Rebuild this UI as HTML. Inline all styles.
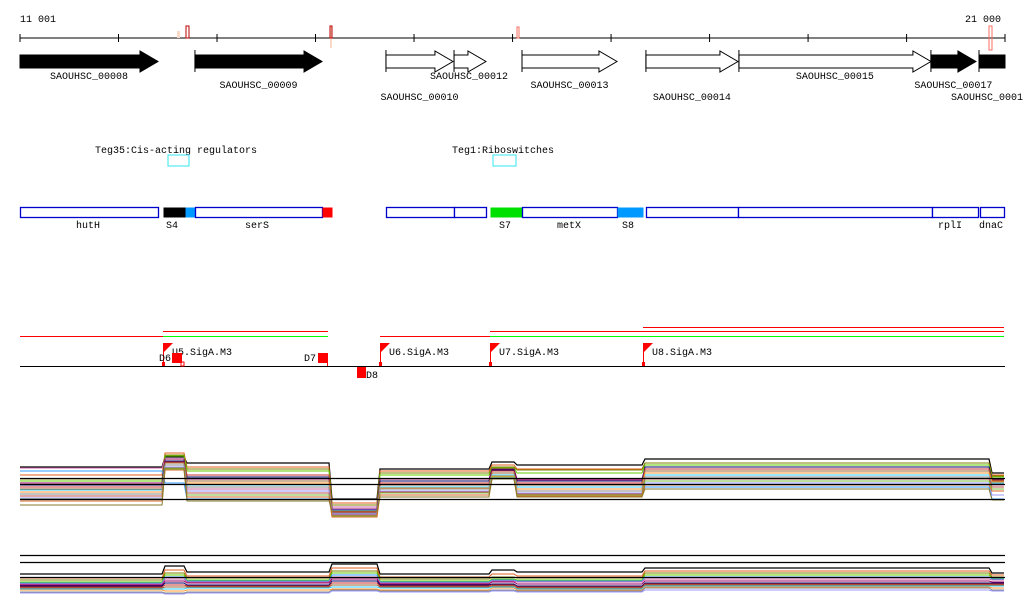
<!DOCTYPE html>
<html><head><meta charset="utf-8"><style>
html,body{margin:0;padding:0;background:#fff;}
svg{display:block;font-family:"Liberation Mono","DejaVu Sans Mono",monospace;}
text{font-size:10px;fill:#000;}
</style></head><body>
<svg id="c" width="1024" height="611" viewBox="0 0 1024 611">
<g>
<text x="20" y="22">11 001</text>
<text x="965" y="22">21 000</text>
<line x1="20" y1="38" x2="1005" y2="38" stroke="#000" stroke-width="1"/>
<g id="ticks"></g>
<rect x="177" y="31" width="3" height="7" fill="#fbd9c8"/>
<rect x="186" y="26" width="3" height="12" fill="none" stroke="#b00" stroke-width="1"/>
<rect x="330" y="26" width="2" height="22" fill="#fbd9c8"/>
<rect x="330" y="26" width="2" height="12" fill="none" stroke="#b00" stroke-width="1"/>
<rect x="517" y="27" width="2" height="11" fill="none" stroke="#f87060" stroke-width="1"/>
<rect x="989" y="26" width="3" height="24" fill="none" stroke="#f87060" stroke-width="1"/>
</g>
<g id="genes"></g>
<g>
<text x="95" y="153">Teg35:Cis-acting regulators</text>
<rect x="168" y="155" width="21" height="11" fill="none" stroke="#33e5ee"/>
<text x="452" y="153">Teg1:Riboswitches</text>
<rect x="493" y="155" width="23" height="11" fill="none" stroke="#33e5ee"/>
</g>
<g id="annot"></g>
<g id="promoters"></g>
<g id="expr1"></g>
<g id="expr2"></g>
</svg>
<script>
const NS='http://www.w3.org/2000/svg';
const startPos=11001,endPos=21000;
const X=p=>20+(p-startPos)/(endPos-startPos)*985;
function mk(parent,tag,attrs){const e=document.createElementNS(NS,tag);for(const k in attrs)e.setAttribute(k,attrs[k]);parent.appendChild(e);return e;}

const tickPositions=[11001,12001,13001,14001,15001,16001,17001,18001,19001,20001,21000];
const tg=document.getElementById('ticks');
tickPositions.forEach(p=>{const l=mk(tg,'line',{x1:X(p),x2:X(p),y1:34,y2:42,stroke:'#000'});

});

const geneNames=['SAOUHSC_00008','SAOUHSC_00009','SAOUHSC_00010','SAOUHSC_00012','SAOUHSC_00013','SAOUHSC_00014','SAOUHSC_00015','SAOUHSC_00017','SAOUHSC_0001'];
const geneStarts=[11001,12777,14716,15407,16097,17355,18299,20248,20736];
const geneEnds=[12402,14067,15396,15731,17061,18289,20248,20705,21000];
const geneFilled=[1,1,0,0,0,0,0,1,1];
const geneLabelRow=[0,1,2,0,1,2,0,1,2];
const gg=document.getElementById('genes');
geneNames.forEach((n,i)=>{
  const x1=X(geneStarts[i]),x2=X(geneEnds[i]);
  const f=geneFilled[i]?'#000':'#fff';
  let pts;
  if(i===8){pts=`${x1},55 ${x2},55 ${x2},68 ${x1},68`;}
  else {const h=Math.max(x1,x2-18);pts=`${x1},55 ${h},55 ${h},51 ${x2},61.5 ${h},72 ${h},68 ${x1},68`;}
  const p=mk(gg,'polygon',{points:pts,fill:f,stroke:'#000','stroke-width':1});
  
  
  if(i!==0)mk(gg,'line',{x1:x1,x2:x1,y1:50,y2:72,stroke:'#000'});
  const ly=[79,88,100][geneLabelRow[i]];
  const t=mk(gg,'text',{x:(x1+x2)/2,y:ly,'text-anchor':'middle'});
  if(i===8){t.setAttribute('x',951);t.setAttribute('text-anchor','start');}
  if(i===3){t.setAttribute('x',430);t.setAttribute('text-anchor','start');}
  t.textContent=n;
  
  
});

const ag=document.getElementById('annot');
const annB=[[20,158,'#fff'],[163,185,'#000'],[185,195,'#0099ff'],[195,322,'#fff'],[322,332,'#f00'],[386,454,'#fff'],[454,486,'#fff'],[490,522,'#00e000'],[522,617,'#fff'],[617,643,'#0099ff'],[646,738,'#fff'],[738,932,'#fff'],[932,978,'#fff'],[980,1004,'#fff']];
annB.forEach(b=>{const r=mk(ag,'rect',{x:b[0]+0.5,y:207.5,width:b[1]-b[0],height:10,fill:b[2],stroke:b[2]==='#fff'?'#0000cc':'none','stroke-width':1.3});

});
const annLabels=[['hutH',88],['S4',172],['serS',257],['S7',505],['metX',569],['S8',628],['rplI',950],['dnaC',991]];
annLabels.forEach(a=>{const t=mk(ag,'text',{x:a[1],y:228,'text-anchor':'middle'});t.textContent=a[0];

});

const pg=document.getElementById('promoters');
const ln=(x1,x2,y,c,w)=>mk(pg,'line',{x1,x2,y1:y,y2:y,stroke:c,'stroke-width':w||1});
ln(20,163,336.5,'#f00');ln(163,328,331.5,'#f00');ln(163,328,336.5,'#0f0');
ln(380,490,336.5,'#f00');ln(490,1004,331.5,'#f00');ln(490,1004,336.5,'#0f0');ln(643,1004,327.5,'#f00');
ln(20,1005,366.5,'#000');
const flagX=[163,380,490,643],flagL=['U5.SigA.M3','U6.SigA.M3','U7.SigA.M3','U8.SigA.M3'];
flagX.forEach((x,i)=>{mk(pg,'rect',{x:x,y:343,width:1,height:23,fill:'#f00'});
mk(pg,'polygon',{points:`${x},343 ${x+10},343 ${x},353`,fill:'#f00'});
mk(pg,'rect',{x:x-1,y:362,width:3,height:4,fill:'#f00'});
const t=mk(pg,'text',{x:x+9,y:355});t.textContent=flagL[i];

});
mk(pg,'rect',{x:172,y:353,width:10,height:10,fill:'#f00'});
mk(pg,'rect',{x:181,y:362,width:3,height:4,fill:'none',stroke:'#f00'});
mk(pg,'rect',{x:318,y:353,width:10,height:10,fill:'#f00'});mk(pg,'rect',{x:327,y:353,width:1,height:13,fill:'#f00'});
mk(pg,'rect',{x:357,y:367,width:9,height:11,fill:'#f00'});
[['D6',159,361],['D7',304,361],['D8',366,378]].forEach(d=>{const t=mk(pg,'text',{x:d[1],y:d[2]});t.textContent=d[0];

});

const segBounds=[11001,12453,12676,14148,14635,15772,16026,17325,20848,21000];
const colors=['#000','#e06020','#808000','#66cc00','#3399ff','#cc66aa','#990066','#000066','#cc3333','#996633','#33ccff','#ff9933','#888','#9999ff','#c0504d','#7fbf3f','#d46a2a','#8a7a2a'];
const topS0=[58,68,62,26,56,63,60,66,52];
const topS1=[50,72,58,22,54,60,56,62,50];
const topS2=[46,70,56,20,52,58,55,62,49];
const topS3=[44,69,54,18,50,57,52,60,48];
const topS4=[54,42,26,15,30,48,30,38,26];
const topS5=[57,66,36,18,40,54,45,52,40];
const topS6=[42,66,46,16,46,56,46,56,44];
const topS7=[40,64,48,14,44,55,44,58,46];
const topS8=[38,63,50,13,42,54,42,56,45];
const topS9=[36,62,44,12,40,52,40,54,44];
const topS10=[35,60,40,11,38,50,38,50,42];
const topS11=[33,58,42,10,37,49,36,52,43];
const topS12=[31,60,38,12,36,48,34,48,41];
const topS13=[27,58,34,11,34,47,32,42,30];
const topS14=[29,57,32,10,33,46,31,46,38];
const topS15=[26,56,30,9,32,48,30,44,36];
const topS16=[24,55,28,8,30,46,29,40,34];
const topS17=[20,57,24,14,28,46,28,36,25];
const topSeries=[topS0,topS1,topS2,topS3,topS4,topS5,topS6,topS7,topS8,topS9,topS10,topS11,topS12,topS13,topS14,topS15,topS16,topS17];
const botS0=[26,34,28,36,26,30,28,32,27];
const botS1=[22,30,24,32,23,26,24,29,25];
const botS2=[20,27,22,29,21,23,22,27,23];
const botS3=[18,25,20,27,19,21,20,25,22];
const botS4=[17,23,19,25,18,20,19,23,21];
const botS5=[16,21,18,23,17,19,18,21,20];
const botS6=[15,19,17,21,16,18,16,19,18];
const botS7=[14,17,15,19,15,16,14,17,17];
const botS8=[13,15,14,17,14,15,13,16,16];
const botS9=[12,13,13,15,13,14,12,15,15];
const botS10=[11,11,12,13,12,13,11,14,14];
const botS11=[10,9,10,11,10,12,10,13,12];
const botS12=[8,7,8,10,9,10,9,12,10];
const botS13=[7,6,7,9,8,9,8,10,9];
const botSeries=[botS0,botS1,botS2,botS3,botS4,botS5,botS6,botS7,botS8,botS9,botS10,botS11,botS12,botS13];

function drawPanel(gid,series,yOf,refLines){
  const g=document.getElementById(gid);
  series.forEach((vals,si)=>{
    let d='';
    vals.forEach((v,k)=>{const x1=X(segBounds[k])+(k?2:0),x2=X(segBounds[k+1])-1;const y=yOf(v);
      d+=(k?'L':'M')+x1+','+y+'L'+x2+','+y;});
    const p=mk(g,'path',{d:d,fill:'none',stroke:colors[si%colors.length],'stroke-width':si===0?1.2:1});
    
    
  });
  refLines.forEach(y=>{const l=mk(g,'line',{x1:20,x2:1005,y1:y,y2:y,stroke:'#000','stroke-width':1.3});
    
    });
}
drawPanel('expr1',topSeries,v=>525-v,[478.5,484.5,499.5]);
drawPanel('expr2',botSeries,v=>600-v,[555.5,562.5,577.5]);
</script>
</body></html>
